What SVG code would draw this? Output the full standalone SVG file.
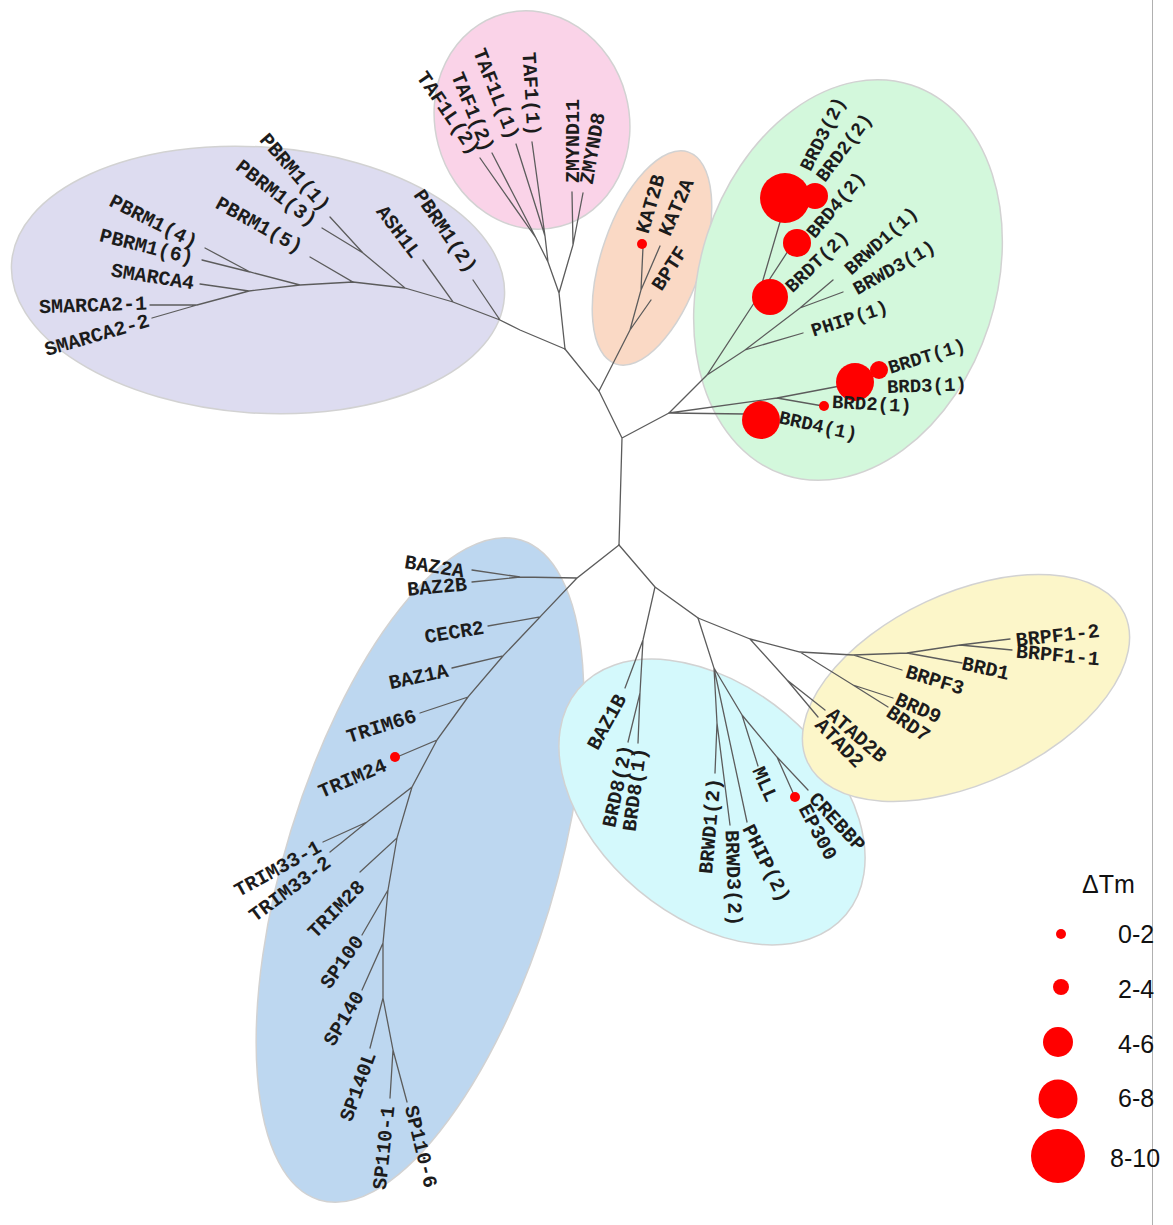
<svg xmlns="http://www.w3.org/2000/svg" width="1173" height="1225" viewBox="0 0 1173 1225">
<style>
.cl{stroke:#d2d2d2;stroke-width:1.5}
.br{fill:none;stroke:#5c5c5c;stroke-width:1.3;stroke-linecap:round}
.lb{font-family:'Liberation Mono','Courier New',monospace;font-size:20px;font-weight:bold;fill:#1c1c1c;dominant-baseline:central}
.gr{font-size:19px}
.e{text-anchor:end}
.dot{fill:#ff0000}
.lg{font-family:'Liberation Sans',Arial,sans-serif;font-size:25px;fill:#111}
</style>
<rect width="1173" height="1225" fill="#ffffff"/>
<line x1="1152.5" y1="0" x2="1152.5" y2="1225" stroke="#b0b0b0" stroke-width="1"/>
<g id="clusters">
<ellipse id="cl-purple" class="cl" cx="258" cy="280" rx="247" ry="133" transform="rotate(4 258 280)" fill="#dddcf0"/>
<ellipse id="cl-pink" class="cl" cx="532" cy="120" rx="97" ry="110" transform="rotate(-15 532 120)" fill="#fad3e8"/>
<ellipse id="cl-orange" class="cl" cx="652" cy="258" rx="50" ry="112" transform="rotate(19 652 258)" fill="#fad9c5"/>
<ellipse id="cl-green" class="cl" cx="848" cy="280" rx="148" ry="205" transform="rotate(18 848 280)" fill="#d3f8dc"/>
<ellipse id="cl-blue" class="cl" cx="420" cy="870" rx="135" ry="345" transform="rotate(17 420 870)" fill="#bdd7f0"/>
<ellipse id="cl-cyan" class="cl" cx="712" cy="802" rx="175" ry="115" transform="rotate(40 712 802)" fill="#d4f9fc"/>
<ellipse id="cl-yellow" class="cl" cx="966" cy="688" rx="175" ry="95" transform="rotate(-25 966 688)" fill="#fcf6c9"/>
</g>
<g id="connectors" class="br">
<path d="M622 438L619 545M622 438L599 391L565 349M622 438L669 413"/>
<path d="M565 349L520 330L500 320L473 280M500 320L453 302L423 260M453 302L405 288L363 253L330 217M363 253L322 228M405 288L353 282L310 257M353 282L300 285L250 272L205 248M250 272L202 260M300 285L249 291L200 284M249 291L197 305L150 305M197 305L152 318"/>
<path d="M565 349L559 293L548 262L536 238L480 158M536 238L492 153M548 262L545 236L516 144M545 236L532 142M559 293L568 262L573 245L572 192M573 245L583 193"/>
<path d="M599 391L630 330L651 300M630 330L641 290L643 247M641 290L660 246"/>
<path d="M669 413L707 375L758 297L790 248M758 297L780 222L785 200M780 222L812 198M707 375L745 350L803 333M745 350L800 308L833 280M800 308L843 292M669 413L745 414M669 413L777 398L823 406M777 398L840 386L870 383M840 386L879 370"/>
<path d="M619 545L577 578L520 577L472 570M520 577L472 582M577 578L540 617L488 626M540 617L503 656L452 668M503 656L468 697L420 713M468 697L437 740L397 757M437 740L412 787L367 822L323 842M367 822L330 852M412 787L397 838L360 872M397 838L388 890L362 935M388 890L383 943L362 990M383 943L383 998L370 1048M383 998L393 1050L390 1098M393 1050L407 1102"/>
<path d="M619 545L655 587L643 640L625 688M643 640L640 693L628 742M640 693L638 743M655 587L698 618L714 668L717 723L715 773M717 723L730 825M714 668L747 822M714 668L742 715L758 766M742 715L777 757L794 795M777 757L808 790"/>
<path d="M698 618L750 639L787 680L825 710M787 680L818 717M750 639L800 652L853 685L893 698M853 685L888 707M800 652L853 655L902 670M853 655L907 653L962 663M907 653L960 645L1010 639M960 645L1012 650"/>
</g>
<g id="purple-leaves">
<g id="n-pbrm1-1"><text class="lb e" transform="translate(326 209) rotate(49)">PBRM1(1)</text></g>
<g id="n-pbrm1-3"><text class="lb e" transform="translate(314 223) rotate(37.6)">PBRM1(3)</text></g>
<g id="n-pbrm1-5"><text class="lb e" transform="translate(301 249) rotate(29)">PBRM1(5)</text></g>
<g id="n-pbrm1-4"><text class="lb e" transform="translate(196 244) rotate(27)">PBRM1(4)</text></g>
<g id="n-pbrm1-6"><text class="lb e" transform="translate(193 259) rotate(14)">PBRM1(6)</text></g>
<g id="n-smarca4"><text class="lb e" transform="translate(194 284) rotate(9)">SMARCA4</text></g>
<g id="n-smarca2-1"><text class="lb e" transform="translate(147 304) rotate(-2)">SMARCA2-1</text></g>
<g id="n-smarca2-2"><text class="lb e" transform="translate(149 321) rotate(-16)">SMARCA2-2</text></g>
<g id="n-ash1l"><text class="lb e" transform="translate(416 256) rotate(53)">ASH1L</text></g>
<g id="n-pbrm1-2"><text class="lb e" transform="translate(472 271) rotate(55.5)">PBRM1(2)</text></g>
</g>
<g id="pink-leaves">
<g id="n-taf1l-2"><text class="lb e" transform="translate(475 153) rotate(55.5)">TAF1L(2)</text></g>
<g id="n-taf1-2"><text class="lb e" transform="translate(488 151) rotate(67.6)">TAF1(2)</text></g>
<g id="n-taf1l-1"><text class="lb e" transform="translate(513 139) rotate(68.7)">TAF1L(1)</text></g>
<g id="n-taf1-1"><text class="lb e" transform="translate(533 136) rotate(86.6)">TAF1(1)</text></g>
<g id="n-zmynd11"><text class="lb" transform="translate(573 183) rotate(-90)">ZMYND11</text></g>
<g id="n-zmynd8"><text class="lb" transform="translate(587 184) rotate(-80)">ZMYND8</text></g>
</g>
<g id="orange-leaves">
<g id="n-kat2b"><circle class="dot" cx="642" cy="244" r="5"/><text class="lb" transform="translate(643 233) rotate(-74)">KAT2B</text></g>
<g id="n-kat2a"><text class="lb" transform="translate(665 235) rotate(-66.5)">KAT2A</text></g>
<g id="n-bptf"><text class="lb" transform="translate(657 289) rotate(-57)">BPTF</text></g>
</g>
<g id="green-leaves">
<g id="n-brd3-2"><circle class="dot" cx="785" cy="198" r="25"/><text class="lb gr" transform="translate(806 170) rotate(-63.4)">BRD3(2)</text></g>
<g id="n-brd2-2"><circle class="dot" cx="815" cy="196" r="13"/><text class="lb gr" transform="translate(821 180) rotate(-53)">BRD2(2)</text></g>
<g id="n-brd4-2"><circle class="dot" cx="797" cy="243" r="14"/><text class="lb gr" transform="translate(811 236) rotate(-50)">BRD4(2)</text></g>
<g id="n-brdt-2"><circle class="dot" cx="770" cy="297" r="18"/><text class="lb gr" transform="translate(789 290) rotate(-44)">BRDT(2)</text></g>
<g id="n-brwd1-1"><text class="lb gr" transform="translate(848 272) rotate(-42)">BRWD1(1)</text></g>
<g id="n-brwd3-1"><text class="lb gr" transform="translate(855 291) rotate(-29.5)">BRWD3(1)</text></g>
<g id="n-phip-1"><text class="lb gr" transform="translate(812 332) rotate(-18)">PHIP(1)</text></g>
<g id="n-brdt-1"><circle class="dot" cx="879" cy="370" r="9"/><text class="lb gr" transform="translate(889 369) rotate(-17)">BRDT(1)</text></g>
<g id="n-brd3-1"><circle class="dot" cx="855" cy="382" r="19"/><text class="lb gr" transform="translate(887 388) rotate(-2)">BRD3(1)</text></g>
<g id="n-brd2-1"><circle class="dot" cx="824" cy="406" r="5"/><text class="lb gr" transform="translate(832 403) rotate(3)">BRD2(1)</text></g>
<g id="n-brd4-1"><circle class="dot" cx="761" cy="420" r="19"/><text class="lb gr" transform="translate(779 418) rotate(12.7)">BRD4(1)</text></g>
</g>
<g id="blue-leaves">
<g id="n-baz2a"><text class="lb e" transform="translate(464 572) rotate(9)">BAZ2A</text></g>
<g id="n-baz2b"><text class="lb e" transform="translate(467 585) rotate(-5)">BAZ2B</text></g>
<g id="n-cecr2"><text class="lb e" transform="translate(484 628) rotate(-9.5)">CECR2</text></g>
<g id="n-baz1a"><text class="lb e" transform="translate(448 671) rotate(-12.5)">BAZ1A</text></g>
<g id="n-trim66"><text class="lb e" transform="translate(416 716) rotate(-17.7)">TRIM66</text></g>
<g id="n-trim24"><circle class="dot" cx="395" cy="757" r="5"/><text class="lb e" transform="translate(386 765) rotate(-23)">TRIM24</text></g>
<g id="n-trim33-1"><text class="lb e" transform="translate(320 846) rotate(-29)">TRIM33-1</text></g>
<g id="n-trim33-2"><text class="lb e" transform="translate(329 861) rotate(-36.5)">TRIM33-2</text></g>
<g id="n-trim28"><text class="lb e" transform="translate(362 884) rotate(-45.5)">TRIM28</text></g>
<g id="n-sp100"><text class="lb e" transform="translate(360 938) rotate(-54.6)">SP100</text></g>
<g id="n-sp140"><text class="lb e" transform="translate(360 993) rotate(-59)">SP140</text></g>
<g id="n-sp140l"><text class="lb e" transform="translate(371 1053) rotate(-70)">SP140L</text></g>
<g id="n-sp110-1"><text class="lb e" transform="translate(389 1106) rotate(-84)">SP110-1</text></g>
<g id="n-sp110-6"><text class="lb" transform="translate(410 1106) rotate(76)">SP110-6</text></g>
</g>
<g id="cyan-leaves">
<g id="n-baz1b"><text class="lb e" transform="translate(622 696) rotate(-61)">BAZ1B</text></g>
<g id="n-brd8-2"><text class="lb e" transform="translate(627 745) rotate(-78)">BRD8(2)</text></g>
<g id="n-brd8-1"><text class="lb e" transform="translate(641 748) rotate(-82.5)">BRD8(1)</text></g>
<g id="n-brwd1-2"><text class="lb e" transform="translate(715 778) rotate(-85)">BRWD1(2)</text></g>
<g id="n-brwd3-2"><text class="lb" transform="translate(731 830) rotate(88)">BRWD3(2)</text></g>
<g id="n-phip-2"><text class="lb" transform="translate(747 826) rotate(63.4)">PHIP(2)</text></g>
<g id="n-mll"><text class="lb" transform="translate(757 768) rotate(66)">MLL</text></g>
<g id="n-crebbp"><text class="lb" transform="translate(812 796) rotate(47)">CREBBP</text></g>
<g id="n-ep300"><circle class="dot" cx="795" cy="797" r="5"/><text class="lb" transform="translate(803 806) rotate(62)">EP300</text></g>
</g>
<g id="yellow-leaves">
<g id="n-brpf1-2"><text class="lb" transform="translate(1016 641) rotate(-6.5)">BRPF1-2</text></g>
<g id="n-brpf1-1"><text class="lb" transform="translate(1016 652) rotate(5.4)">BRPF1-1</text></g>
<g id="n-brd1"><text class="lb" transform="translate(962 664) rotate(12.5)">BRD1</text></g>
<g id="n-brpf3"><text class="lb" transform="translate(906 672) rotate(17)">BRPF3</text></g>
<g id="n-brd9"><text class="lb" transform="translate(896 699) rotate(24)">BRD9</text></g>
<g id="n-brd7"><text class="lb" transform="translate(888 711) rotate(34)">BRD7</text></g>
<g id="n-atad2b"><text class="lb" transform="translate(829 712) rotate(41)">ATAD2B</text></g>
<g id="n-atad2"><text class="lb" transform="translate(818 722) rotate(46)">ATAD2</text></g>
</g>
<g id="legend">
<text class="lg" x="1082" y="893">ΔTm</text>
<circle class="dot" cx="1061" cy="934" r="5"/><text class="lg" x="1118" y="943">0-2</text>
<circle class="dot" cx="1061" cy="987" r="8"/><text class="lg" x="1118" y="998">2-4</text>
<circle class="dot" cx="1058" cy="1042" r="15"/><text class="lg" x="1118" y="1053">4-6</text>
<circle class="dot" cx="1058" cy="1099" r="19.5"/><text class="lg" x="1118" y="1107">6-8</text>
<circle class="dot" cx="1058" cy="1156" r="27"/><text class="lg" x="1110" y="1167">8-10</text>
</g>
</svg>
